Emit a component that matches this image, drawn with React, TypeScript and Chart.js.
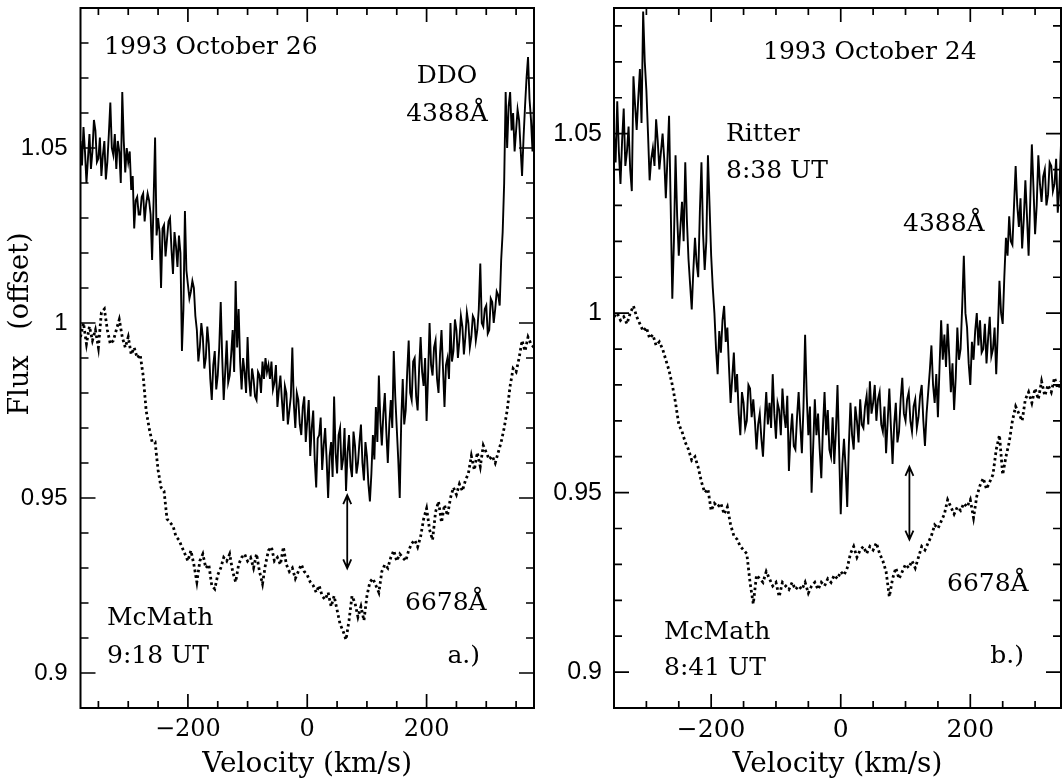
import React, { useEffect, useRef } from 'react';
import { Chart, registerables } from 'chart.js';

Chart.register(...registerables);

// ---------------- data ----------------
const SOLID_STEP = 2.5; // km/s sampling of the He I 4388 spectra
const DOT_STEP = 5; // km/s sampling of the He I 6678 spectra

// Panel a.) 1993 October 26, velocities start at -380 km/s
const L_START = -380;
const L_H4388 = [
  1.052, 1.045, 1.056, 1.049, 1.040, 1.047, 1.054, 1.044, 1.049, 1.058,
  1.055, 1.046, 1.047, 1.053, 1.042, 1.048, 1.052, 1.041, 1.046, 1.054,
  1.063, 1.050, 1.048, 1.054, 1.044, 1.052, 1.049, 1.040, 1.066, 1.052,
  1.043, 1.050, 1.046, 1.049, 1.038, 1.042, 1.027, 1.035, 1.036, 1.031,
  1.031, 1.036, 1.037, 1.029, 1.034, 1.037, 1.035, 1.031, 1.018, 1.035,
  1.053, 1.025, 1.030, 1.026, 1.010, 1.027, 1.028, 1.019, 1.024, 1.029,
  1.030, 1.021, 1.014, 1.026, 1.022, 1.016, 1.025, 1.020, 0.992, 1.004,
  1.032, 1.015, 1.011, 1.007, 1.009, 1.012, 1.010, 1.002, 0.998, 0.989,
  0.993, 1.000, 0.996, 0.987, 0.990, 0.999, 0.994, 0.984, 0.978, 0.988,
  0.992, 0.981, 0.985, 0.993, 1.006, 0.990, 0.978, 0.986, 0.995, 0.983,
  0.985, 0.991, 0.998, 0.986, 1.012, 0.993, 1.004, 0.989, 0.981, 0.990,
  0.986, 0.980, 0.996, 0.984, 0.979, 0.987, 0.984, 0.979, 0.978, 0.986,
  0.985, 0.980, 0.989, 0.984, 0.990, 0.986, 0.988, 0.984, 0.989, 0.981,
  0.983, 0.988, 0.976, 0.981, 0.985, 0.978, 0.972, 0.982, 0.980, 0.971,
  0.975, 0.979, 0.993, 0.977, 0.970, 0.980, 0.978, 0.971, 0.968, 0.976,
  0.979, 0.966, 0.972, 0.978, 0.962, 0.970, 0.975, 0.961, 0.953, 0.967,
  0.968, 0.973, 0.958, 0.965, 0.970, 0.961, 0.950, 0.962, 0.966, 0.956,
  0.979, 0.963, 0.957, 0.968, 0.970, 0.958, 0.961, 0.970, 0.952, 0.963,
  0.968, 0.959, 0.956, 0.969, 0.965, 0.957, 0.960, 0.966, 0.971, 0.960,
  0.955, 0.966, 0.962, 0.954, 0.949, 0.957, 0.968, 0.961, 0.976, 0.966,
  0.985, 0.972, 0.965, 0.974, 0.980, 0.969, 0.960, 0.971, 0.978, 0.970,
  0.992, 0.979, 0.970, 0.961, 0.950, 0.972, 0.984, 0.971, 0.975, 0.986,
  0.995, 0.980, 0.978, 0.989, 0.990, 0.979, 0.975, 0.987, 0.996, 0.986,
  0.982, 0.990, 0.972, 0.985, 1.000, 0.988, 0.985, 0.993, 0.995, 0.984,
  0.980, 0.991, 0.998, 0.987, 0.976, 0.988, 0.990, 0.984, 1.000, 0.989,
  0.992, 1.001, 0.998, 0.990, 0.995, 1.002, 0.999, 0.991, 0.996, 1.003,
  1.000, 0.993, 0.996, 1.002, 1.001, 0.995, 0.998, 1.004, 1.017, 1.000,
  0.999, 1.004, 1.005, 0.997, 0.998, 1.007, 1.006, 1.000, 1.004, 1.009,
  1.008, 1.005, 1.018, 1.026, 1.040, 1.066, 1.050, 1.062, 1.066, 1.055,
  1.060, 1.049, 1.055, 1.061, 1.058, 1.050, 1.042, 1.053, 1.062, 1.070,
  1.076, 1.064, 1.058, 1.049, 1.064,
];
const L_HE6678 = [
  0.996, 1.000, 0.994, 0.999, 0.995, 0.998, 0.993, 1.003, 1.004, 0.998,
  0.994, 0.995, 0.998, 1.001, 0.996, 0.993, 0.996, 0.991, 0.993, 0.990,
  0.991, 0.985, 0.975, 0.970, 0.966, 0.966, 0.958, 0.953, 0.952, 0.944,
  0.943, 0.942, 0.939, 0.938, 0.936, 0.934, 0.932, 0.935, 0.931, 0.926,
  0.932, 0.934, 0.930, 0.931, 0.925, 0.924, 0.928, 0.930, 0.933, 0.932,
  0.934, 0.929, 0.926, 0.931, 0.933, 0.934, 0.932, 0.933, 0.930, 0.934,
  0.929, 0.9255, 0.931, 0.935, 0.936, 0.932, 0.933, 0.931, 0.936, 0.931,
  0.929, 0.930, 0.927, 0.929, 0.931, 0.929, 0.928, 0.926, 0.925, 0.923,
  0.925, 0.922, 0.921, 0.923, 0.919, 0.922, 0.918, 0.914, 0.912, 0.9095,
  0.915, 0.922, 0.920, 0.916, 0.919, 0.915, 0.922, 0.926, 0.927, 0.925,
  0.923, 0.929, 0.931, 0.930, 0.933, 0.935, 0.932, 0.934, 0.933, 0.932,
  0.935, 0.937, 0.938, 0.936, 0.939, 0.944, 0.947, 0.941, 0.938, 0.946,
  0.949, 0.943, 0.948, 0.945, 0.950, 0.953, 0.951, 0.954, 0.952, 0.955,
  0.957, 0.962, 0.958, 0.963, 0.959, 0.965, 0.963, 0.961, 0.962, 0.960,
  0.963, 0.966, 0.970, 0.975, 0.982, 0.987, 0.986, 0.990, 0.995, 0.992,
  0.996, 0.994, 0.993,
];

// Panel b.) 1993 October 24, velocities start at -350 km/s
const R_START = -350;
const R_H4388 = [
  1.050, 1.042, 1.059, 1.045, 1.036, 1.048, 1.057, 1.041, 1.045, 1.052,
  1.040, 1.034, 1.066, 1.058, 1.051, 1.060, 1.068, 1.053, 1.084, 1.070,
  1.062, 1.050, 1.037, 1.043, 1.046, 1.041, 1.054, 1.048, 1.040, 1.045,
  1.050, 1.043, 1.032, 1.043, 1.055, 1.030, 1.004, 1.020, 1.044, 1.027,
  1.016, 1.024, 1.031, 1.020, 1.042, 1.026, 1.015, 1.008, 1.001, 1.012,
  1.021, 1.014, 1.010, 1.028, 1.042, 1.022, 1.012, 1.020, 1.044, 1.030,
  1.016, 1.007, 1.000, 0.990, 0.983, 0.995, 0.989, 0.998, 1.002, 0.992,
  0.996, 0.985, 0.975, 0.982, 0.989, 0.978, 0.983, 0.972, 0.966, 0.978,
  0.975, 0.968, 0.970, 0.980, 0.979, 0.971, 0.976, 0.970, 0.962, 0.969,
  0.972, 0.965, 0.960, 0.970, 0.978, 0.969, 0.975, 0.968, 0.983, 0.972,
  0.965, 0.975, 0.973, 0.966, 0.979, 0.972, 0.968, 0.977, 0.956, 0.966,
  0.972, 0.963, 0.962, 0.971, 0.978, 0.969, 0.961, 0.974, 0.994, 0.977,
  0.966, 0.974, 0.950, 0.963, 0.976, 0.966, 0.972, 0.962, 0.954, 0.968,
  0.978, 0.966, 0.973, 0.962, 0.960, 0.971, 0.958, 0.967, 0.980, 0.962,
  0.944, 0.958, 0.965, 0.957, 0.946, 0.963, 0.975, 0.966, 0.962, 0.974,
  0.970, 0.964, 0.976, 0.969, 0.968, 0.974, 0.977, 0.969, 0.981, 0.972,
  0.975, 0.980, 0.970, 0.976, 0.978, 0.969, 0.967, 0.974, 0.961, 0.970,
  0.979, 0.968, 0.958, 0.969, 0.975, 0.964, 0.967, 0.976, 0.982, 0.972,
  0.970, 0.976, 0.978, 0.970, 0.967, 0.974, 0.976, 0.968, 0.971, 0.977,
  0.980, 0.970, 0.963, 0.972, 0.978, 0.984, 0.991, 0.980, 0.975, 0.983,
  0.971, 0.985, 0.998, 0.987, 0.994, 0.985, 0.997, 0.988, 0.978, 0.986,
  0.973, 0.982, 0.996, 0.987, 0.990, 1.002, 1.016, 1.000, 0.996, 0.986,
  0.980, 0.992, 0.987, 0.995, 1.000, 0.991, 0.998, 0.989, 0.990, 0.997,
  0.986, 0.993, 0.999, 0.988, 0.990, 0.996, 0.983, 0.995, 1.009, 1.000,
  0.997, 1.010, 1.021, 1.016, 1.027, 1.020, 1.019, 1.030, 1.041, 1.030,
  1.024, 1.032, 1.018, 1.026, 1.037, 1.027, 1.016, 1.031, 1.047, 1.035,
  1.022, 1.030, 1.044, 1.036, 1.031, 1.038, 1.040, 1.030, 1.033, 1.042,
  1.041, 1.034, 1.036, 1.043, 1.028, 1.035, 1.047,
];
const R_HE6678 = [
  0.999, 1.000, 0.998, 0.999, 0.997, 1.000, 1.002, 0.999, 0.997, 0.995,
  0.996, 0.993, 0.994, 0.991, 0.992, 0.990, 0.987, 0.984, 0.980, 0.975,
  0.969, 0.967, 0.964, 0.962, 0.959, 0.960, 0.957, 0.953, 0.950, 0.951,
  0.945, 0.947, 0.946, 0.947, 0.944, 0.946, 0.941, 0.938, 0.937, 0.935,
  0.934, 0.933, 0.925, 0.919, 0.927, 0.926, 0.925, 0.928, 0.926, 0.924,
  0.925, 0.921, 0.925, 0.924, 0.923, 0.925, 0.923, 0.924, 0.923, 0.925,
  0.922, 0.924, 0.925, 0.923, 0.925, 0.924, 0.926, 0.925, 0.927, 0.926,
  0.928, 0.927, 0.929, 0.933, 0.935, 0.932, 0.934, 0.935, 0.933, 0.935,
  0.934, 0.936, 0.933, 0.931, 0.928, 0.921, 0.926, 0.929, 0.926, 0.928,
  0.930, 0.929, 0.931, 0.929, 0.932, 0.935, 0.934, 0.936, 0.938, 0.941,
  0.940, 0.942, 0.944, 0.948, 0.946, 0.944, 0.946, 0.945, 0.947, 0.946,
  0.948, 0.943, 0.949, 0.952, 0.954, 0.951, 0.953, 0.955, 0.962, 0.966,
  0.955, 0.960, 0.964, 0.970, 0.974, 0.972, 0.970, 0.976, 0.978, 0.975,
  0.979, 0.976, 0.981, 0.977, 0.980, 0.978, 0.982, 0.979, 0.981,
];

// axis ticks
const L_X_MARKS = [-350, -300, -250, -200, -150, -100, -50, 0, 50, 100, 150, 200, 250, 300, 350];
const R_X_MARKS = [-300, -250, -200, -150, -100, -50, 0, 50, 100, 150, 200, 250, 300];
const X_LABELED = [-200, 0, 200];
const L_Y_MARKS = [0.89, 0.9, 0.91, 0.92, 0.93, 0.94, 0.95, 0.96, 0.97, 0.98, 0.99, 1.0, 1.01, 1.02, 1.03, 1.04, 1.05, 1.06, 1.07, 1.08, 1.09];
const R_Y_MARKS = [0.89, 0.9, 0.91, 0.92, 0.93, 0.94, 0.95, 0.96, 0.97, 0.98, 0.99, 1.0, 1.01, 1.02, 1.03, 1.04, 1.05, 1.06, 1.07, 1.08];
const Y_LABELED = [0.9, 0.95, 1.0, 1.05];

// velocity-shift arrows [velocity, top flux, bottom flux]
const L_ARROW = [67, 0.9508, 0.9299];
const R_ARROW = [106, 0.9572, 0.9369];

// ---------------- layout / styles ----------------
type TextItem = { text: string; x: number; y: number; align: CanvasTextAlign };

interface PanelCfg {
  pageLeft: number;
  width: number;
  axisWidth: number;
  padRight: number;
  xMin: number;
  xMax: number;
  yMin: number;
  yMax: number;
  start: number;
  solid: number[];
  dotted: number[];
  xMarks: number[];
  yMarks: number[];
  arrow: number[];
  yTickSize: number;
  yTickPad: number;
  xTickSize: number;
  texts: TextItem[];
  yTitle?: { text: string; x: number; y: number };
}

const SERIF = '"DejaVu Serif", serif';
const SANS = '"Liberation Sans", Arial, sans-serif';

const LEFT: PanelCfg = {
  pageLeft: 0,
  width: 545,
  axisWidth: 80.5,
  padRight: 11,
  xMin: -380,
  xMax: 380,
  yMin: 0.89,
  yMax: 1.09,
  start: L_START,
  solid: L_H4388,
  dotted: L_HE6678,
  xMarks: L_X_MARKS,
  yMarks: L_Y_MARKS,
  arrow: L_ARROW,
  yTickSize: 24,
  yTickPad: 13,
  xTickSize: 24,
  texts: [
    { text: '1993 October 26', x: 104, y: 54, align: 'left' },
    { text: 'DDO', x: 447, y: 83, align: 'center' },
    { text: '4388Å', x: 447, y: 121, align: 'center' },
    { text: '6678Å', x: 405, y: 610, align: 'left' },
    { text: 'McMath', x: 107, y: 625, align: 'left' },
    { text: '9:18 UT', x: 107, y: 663, align: 'left' },
    { text: 'a.)', x: 480, y: 663, align: 'right' },
  ],
  yTitle: { text: 'Flux   (offset)', x: 21, y: 324 },
};

const RIGHT: PanelCfg = {
  pageLeft: 545,
  width: 517,
  axisWidth: 69,
  padRight: 1,
  xMin: -350,
  xMax: 340,
  yMin: 0.89,
  yMax: 1.085,
  start: R_START,
  solid: R_H4388,
  dotted: R_HE6678,
  xMarks: R_X_MARKS,
  yMarks: R_Y_MARKS,
  arrow: R_ARROW,
  yTickSize: 25,
  yTickPad: 12,
  xTickSize: 25,
  texts: [
    { text: '1993 October 24', x: 218, y: 59, align: 'left' },
    { text: 'Ritter', x: 181, y: 141, align: 'left' },
    { text: '8:38 UT', x: 181, y: 178, align: 'left' },
    { text: '4388Å', x: 358, y: 231, align: 'left' },
    { text: '6678Å', x: 402, y: 591, align: 'left' },
    { text: 'McMath', x: 119, y: 639, align: 'left' },
    { text: '8:41 UT', x: 119, y: 675, align: 'left' },
    { text: 'b.)', x: 479, y: 663, align: 'right' },
  ],
};

function makePanelPlugin(cfg: PanelCfg) {
  return {
    id: 'panelDecor',
    afterDraw(chart: any) {
      const { ctx, chartArea: a, scales } = chart;
      const xs = scales.x;
      const ys = scales.y;
      ctx.save();
      ctx.strokeStyle = '#000';
      ctx.fillStyle = '#000';
      // frame
      ctx.lineWidth = 2;
      ctx.strokeRect(a.left, a.top, a.right - a.left, a.bottom - a.top);
      // inward tick marks on all four sides
      ctx.lineWidth = 1.7;
      ctx.beginPath();
      for (const v of cfg.xMarks) {
        const p = xs.getPixelForValue(v);
        const len = v % 200 === 0 ? 14 : 7;
        ctx.moveTo(p, a.bottom);
        ctx.lineTo(p, a.bottom - len);
        ctx.moveTo(p, a.top);
        ctx.lineTo(p, a.top + len);
      }
      for (const v of cfg.yMarks) {
        const p = ys.getPixelForValue(v);
        const len = Math.round(v * 100) % 5 === 0 ? 15 : 8;
        ctx.moveTo(a.left, p);
        ctx.lineTo(a.left + len, p);
        ctx.moveTo(a.right, p);
        ctx.lineTo(a.right - len, p);
      }
      ctx.stroke();
      // double-headed arrow
      const ax = xs.getPixelForValue(cfg.arrow[0]);
      const y1 = ys.getPixelForValue(cfg.arrow[1]);
      const y2 = ys.getPixelForValue(cfg.arrow[2]);
      ctx.lineWidth = 1.8;
      ctx.beginPath();
      ctx.moveTo(ax, y1);
      ctx.lineTo(ax, y2);
      ctx.moveTo(ax - 4, y1 + 9);
      ctx.lineTo(ax, y1);
      ctx.lineTo(ax + 4, y1 + 9);
      ctx.moveTo(ax - 4, y2 - 9);
      ctx.lineTo(ax, y2);
      ctx.lineTo(ax + 4, y2 - 9);
      ctx.stroke();
      // annotations
      ctx.font = `25px ${SERIF}`;
      ctx.textBaseline = 'alphabetic';
      for (const t of cfg.texts) {
        ctx.textAlign = t.align;
        ctx.fillText(t.text, t.x, t.y);
      }
      if (cfg.yTitle) {
        ctx.save();
        ctx.translate(cfg.yTitle.x, cfg.yTitle.y);
        ctx.rotate(-Math.PI / 2);
        ctx.textAlign = 'center';
        ctx.textBaseline = 'middle';
        ctx.font = `27px ${SERIF}`;
        ctx.fillText(cfg.yTitle.text, 0, 0);
        ctx.restore();
      }
      ctx.restore();
    },
  };
}

function Panel({ cfg }: { cfg: PanelCfg }) {
  const ref = useRef<HTMLCanvasElement | null>(null);
  useEffect(() => {
    if (!ref.current) return;
    const toPts = (arr: number[], step: number) => arr.map((y, i) => ({ x: cfg.start + i * step, y }));
    const chart = new Chart(ref.current, {
      type: 'line',
      data: {
        datasets: [
          {
            label: 'He I 4388',
            data: toPts(cfg.solid, SOLID_STEP),
            borderColor: '#000',
            borderWidth: 1.9,
            pointRadius: 0,
            tension: 0,
            fill: false,
          },
          {
            label: 'He I 6678',
            data: toPts(cfg.dotted, DOT_STEP),
            borderColor: '#000',
            borderWidth: 2.8,
            borderDash: [2.6, 3.0],
            pointRadius: 0,
            tension: 0,
            fill: false,
          },
        ],
      },
      options: {
        responsive: false,
        animation: false,
        devicePixelRatio: 1,
        events: [],
        layout: { padding: { left: 0, top: 8, right: cfg.padRight, bottom: 2 } },
        plugins: {
          legend: { display: false },
          tooltip: { enabled: false },
          title: { display: false },
        },
        scales: {
          x: {
            type: 'linear',
            min: cfg.xMin,
            max: cfg.xMax,
            afterBuildTicks: (s: any) => {
              s.ticks = X_LABELED.map((v) => ({ value: v }));
            },
            afterFit: (s: any) => {
              s.height = 74;
              s.paddingLeft = 0;
              s.paddingRight = 0;
            },
            grid: { display: false, drawTicks: false, tickLength: 0 },
            border: { display: false },
            ticks: {
              autoSkip: false,
              maxRotation: 0,
              minRotation: 0,
              padding: 7,
              color: '#000',
              font: { family: SERIF, size: cfg.xTickSize },
              callback: (value: any) => {
                const v = Number(value);
                return v < 0 ? '\u2212' + Math.abs(v) : String(v);
              },
            },
            title: {
              display: true,
              text: 'Velocity (km/s)',
              color: '#000',
              font: { family: SERIF, size: 28 },
              padding: 0,
            },
          },
          y: {
            type: 'linear',
            min: cfg.yMin,
            max: cfg.yMax,
            afterBuildTicks: (s: any) => {
              s.ticks = Y_LABELED.map((v) => ({ value: v }));
            },
            afterFit: (s: any) => {
              s.width = cfg.axisWidth;
              s.paddingTop = 0;
              s.paddingBottom = 0;
            },
            grid: { display: false, drawTicks: false, tickLength: 0 },
            border: { display: false },
            ticks: {
              autoSkip: false,
              padding: cfg.yTickPad,
              color: '#000',
              font: { family: SANS, size: cfg.yTickSize },
              callback: (value: any) => String(Math.round(Number(value) * 100) / 100),
            },
          },
        },
      },
      plugins: [makePanelPlugin(cfg)],
    } as any);
    return () => chart.destroy();
  }, [cfg]);
  return (
    <canvas
      ref={ref}
      width={cfg.width}
      height={784}
      style={{ position: 'absolute', left: cfg.pageLeft, top: 0, width: cfg.width, height: 784, display: 'block' }}
    />
  );
}

export default function App() {
  return (
    <div
      style={{
        position: 'fixed',
        left: 0,
        top: 0,
        width: 1062,
        height: 784,
        overflow: 'hidden',
        background: '#fff',
      }}
    >
      <Panel cfg={LEFT} />
      <Panel cfg={RIGHT} />
    </div>
  );
}
